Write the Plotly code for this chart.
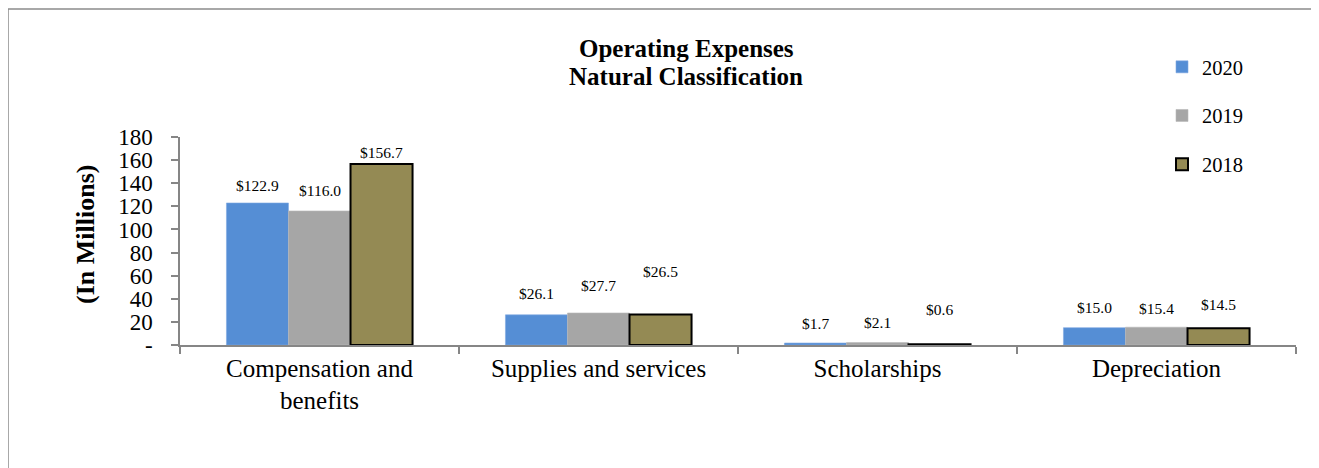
import plotly.graph_objects as go

categories = ["Compensation and<br>benefits", "Supplies and services", "Scholarships", "Depreciation"]
years = ["2020", "2019", "2018"]
values_2020 = [122.9, 26.1, 1.7, 15.0]
values_2019 = [116.0, 27.7, 2.1, 15.4]
values_2018 = [156.7, 26.5, 0.6, 14.5]
y_tickvals = [0, 20, 40, 60, 80, 100, 120, 140, 160, 180]
y_ticktext = ["-", "20", "40", "60", "80", "100", "120", "140", "160", "180"]
title_lines = ["Operating Expenses", "Natural Classification"]
y_title = "(In Millions)"

series = [values_2020, values_2019, values_2018]
colors = ["#558ED5", "#A6A6A6", "#948A54"]
outline_colors = ["#7FA8E0", "#B8B8B8", "#000000"]
outline_widths = [0.6, 0.6, 2]
# label vertical offsets (px) above bar tops, styling only
label_shift = [[17, 21, 20, 20], [20, 27, 20, 19], [11, 43, 35, 24]]

FONT = "Liberation Serif"

# page body has an 8px margin; compensate so the picture lands where the reference is
O = 8
W, H = 1319 - O, 468 - O
L, R, T, B = 180 - O, 1296 - O, 137 - O, 345 - O
pw, ph = R - L, B - T


def px_x(p):
    return (p - O - L) / pw


def px_y(p):
    return (B - (p - O)) / ph


fig = go.Figure()
for i, (yr, vals) in enumerate(zip(years, series)):
    fig.add_trace(go.Bar(
        x=categories, y=vals, name=yr, legendgroup=yr,
        marker=dict(color=colors[i], line=dict(color=outline_colors[i], width=outline_widths[i])),
        offsetgroup=str(i),
    ))

annotations = []
for i, vals in enumerate(series):
    for j, v in enumerate(vals):
        annotations.append(dict(
            x=categories[j], y=v, xref="x", yref="y",
            text=f"${v:.1f}", showarrow=False,
            xshift=(i - 1) * 62, yshift=label_shift[i][j],
            yanchor="middle", xanchor="center",
            font=dict(family=FONT, size=15.5, color="#000000"),
        ))

annotations.append(dict(
    x=px_x(85), y=px_y(235), xref="paper", yref="paper",
    text=f"<b>{y_title}</b>", textangle=-90, showarrow=False,
    xanchor="center", yanchor="middle",
    font=dict(family=FONT, size=26, color="#000000"),
))
for k, (line, ypix) in enumerate(zip(title_lines, [48, 77])):
    annotations.append(dict(
        x=px_x(686), y=px_y(ypix), xref="paper", yref="paper",
        text=f"<b>{line}</b>", showarrow=False,
        xanchor="center", yanchor="middle",
        font=dict(family=FONT, size=25, color="#000000"),
    ))

fig.update_layout(
    width=W, height=H,
    margin=dict(l=L, r=W - R, t=T, b=H - B, pad=0),
    paper_bgcolor="white", plot_bgcolor="white",
    barmode="group", bargap=0.333, bargroupgap=0,
    font=dict(family=FONT, color="#000000"),
    showlegend=True,
    legend=dict(
        x=px_x(1162), y=px_y(47), xanchor="left", yanchor="top",
        xref="paper", yref="paper",
        traceorder="grouped", tracegroupgap=19,
        font=dict(family=FONT, size=20.5, color="#000000"),
        bgcolor="rgba(0,0,0,0)", itemwidth=30,
    ),
    annotations=annotations,
    shapes=[dict(
        type="rect", xref="paper", yref="paper",
        x0=px_x(8), x1=px_x(1316), y0=px_y(490), y1=px_y(9),
        line=dict(color="#8C8C8C", width=1.5), fillcolor="rgba(0,0,0,0)", layer="below",
    )],
)

fig.update_yaxes(
    range=[0, 180], tickvals=y_tickvals, ticktext=y_ticktext,
    showgrid=False, zeroline=False,
    showline=True, linecolor="#868686", linewidth=1.5,
    ticks="outside", ticklen=7, tickcolor="#868686", tickwidth=1.5,
    tickfont=dict(family=FONT, size=23, color="#000000"),
    ticklabelstandoff=14,
)
fig.update_xaxes(
    showgrid=False, zeroline=False,
    showline=True, linecolor="#868686", linewidth=1.5,
    ticks="outside", ticklen=7, tickcolor="#868686", tickwidth=1.5,
    tickson="boundaries",
    tickfont=dict(family=FONT, size=25, color="#000000"),
)

fig.write_html("out.html")
